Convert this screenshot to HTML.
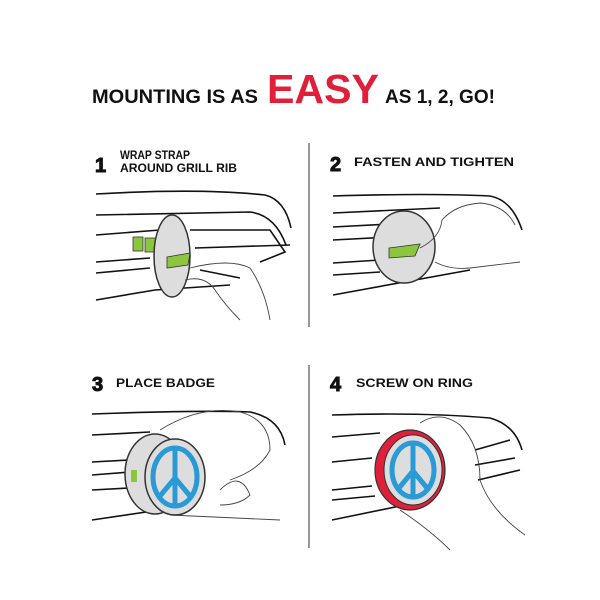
<!DOCTYPE html>
<html><head><meta charset="utf-8"><style>
html,body{margin:0;padding:0;background:#fff;width:600px;height:600px;overflow:hidden}
svg{display:block}
text{font-family:"Liberation Sans",sans-serif;font-weight:bold}
.n{stroke:#111;stroke-width:1}
</style></head><body>
<svg width="600" height="600" viewBox="0 0 600 600" xmlns="http://www.w3.org/2000/svg">
<rect width="600" height="600" fill="#fff"/>
<text x="92" y="103" font-size="19" fill="#111" textLength="166" lengthAdjust="spacingAndGlyphs">MOUNTING IS AS</text>
<text x="267" y="103" font-size="41" fill="#e0203a" textLength="112" lengthAdjust="spacingAndGlyphs">EASY</text>
<text x="385" y="103" font-size="19" fill="#111" textLength="110" lengthAdjust="spacingAndGlyphs">AS 1, 2, GO!</text>
<line x1="309" y1="143" x2="309" y2="327" stroke="#777" stroke-width="1.5"/>
<line x1="309" y1="365" x2="309" y2="548" stroke="#777" stroke-width="1.5"/>

<!-- Panel 1 -->
<text class="n" x="95" y="172" font-size="20" fill="#111">1</text>
<text x="120" y="159" font-size="11.5" fill="#111" textLength="70" lengthAdjust="spacingAndGlyphs">WRAP STRAP</text>
<text x="120" y="172" font-size="11.5" fill="#111" textLength="117" lengthAdjust="spacingAndGlyphs">AROUND GRILL RIB</text>
<g fill="none" stroke="#111" stroke-width="1.6">
<path d="M96 194 Q200 188 265 195 Q285 200 291 228"/>
<path d="M96 215 L250 212 Q275 215 286 245"/>
<path d="M96 235 L160 230"/>
<path d="M96 262 L150 258"/>
<path d="M96 273 L150 268"/>
<path d="M96 300 L155 290 L230 285"/>
<path d="M190 230 L270 230 L285 252 L260 262"/>
<path d="M195 248 L290 245"/>
<path d="M200 270 L240 278"/>
</g>
<rect x="133" y="237" width="10" height="14" fill="#8cc63f" stroke="#333" stroke-width=".8"/>
<rect x="145" y="238" width="12" height="14" fill="#8cc63f" stroke="#333" stroke-width=".8"/>
<ellipse cx="172" cy="256" rx="18" ry="41" fill="#ddd" stroke="#333" stroke-width="1.5"/>
<polygon points="167,257 190,253 188,265 167,268" fill="#8cc63f" stroke="#333" stroke-width=".8"/>
<path d="M190 268 Q230 258 250 268 Q265 290 270 320 M185 280 Q205 275 215 290 Q225 305 240 320" fill="none" stroke="#444" stroke-width=".9"/>

<!-- Panel 2 -->
<text class="n" x="330" y="171" font-size="20" fill="#111">2</text>
<text x="354" y="166" font-size="11.5" fill="#111" textLength="160" lengthAdjust="spacingAndGlyphs">FASTEN AND TIGHTEN</text>
<g fill="none" stroke="#111" stroke-width="1.6">
<path d="M333 196 Q430 193 490 196 Q512 200 522 230"/>
<path d="M333 213 L440 208"/>
<path d="M333 227 L390 224"/>
<path d="M333 240 L390 237"/>
<path d="M333 263 L380 260"/>
<path d="M333 275 L380 272"/>
<path d="M333 295 L470 270"/>
</g>
<ellipse cx="404" cy="247" rx="31" ry="36" fill="#ddd" stroke="#333" stroke-width="1.5"/>
<polygon points="389,248 420,244 415,256 389,258" fill="#8cc63f" stroke="#333" stroke-width=".8"/>
<path d="M420 248 Q440 238 442 220 Q455 205 480 203 Q505 205 515 225 M435 262 Q450 270 470 268 L520 262" fill="none" stroke="#444" stroke-width=".9"/>

<!-- Panel 3 -->
<text class="n" x="92" y="391" font-size="20" fill="#111">3</text>
<text x="116" y="387" font-size="11.5" fill="#111" textLength="99" lengthAdjust="spacingAndGlyphs">PLACE BADGE</text>
<g fill="none" stroke="#111" stroke-width="1.6">
<path d="M92 414 Q200 410 250 412 Q280 418 285 445"/>
<path d="M92 435 L150 432"/>
<path d="M92 462 L130 460"/>
<path d="M92 475 L130 472"/>
<path d="M92 490 L130 488"/>
<path d="M92 520 L160 510"/>
</g>
<path d="M160 430 Q200 405 240 412 Q270 420 270 450 Q260 470 230 480 M220 490 Q240 470 250 495 Q240 505 220 505 M170 515 L280 520" fill="none" stroke="#444" stroke-width=".9"/>
<ellipse cx="155" cy="474" rx="30" ry="40" fill="#ddd" stroke="#333" stroke-width="1.5"/>
<rect x="131" y="470" width="6" height="12" fill="#8cc63f"/>
<ellipse cx="175" cy="477" rx="30" ry="38" fill="#ddd" stroke="#333" stroke-width="1.5"/>
<ellipse cx="175" cy="477" rx="22" ry="29" fill="none" stroke="#2a9ad6" stroke-width="5"/>
<path d="M175 449 V506 M175 478 L160 496 M175 478 L190 496" fill="none" stroke="#2a9ad6" stroke-width="5"/>

<!-- Panel 4 -->
<text class="n" x="330" y="391" font-size="20" fill="#111">4</text>
<text x="356" y="387" font-size="11.5" fill="#111" textLength="117" lengthAdjust="spacingAndGlyphs">SCREW ON RING</text>
<g fill="none" stroke="#111" stroke-width="1.6">
<path d="M332 415 Q420 412 490 418 Q515 425 522 450"/>
<path d="M332 437 L380 433"/>
<path d="M332 462 L372 458"/>
<path d="M332 490 L372 486"/>
<path d="M332 500 L375 496"/>
<path d="M332 520 L400 506"/>
<path d="M475 450 L510 440 M475 465 L515 458 M478 480 L520 470"/>
</g>
<ellipse cx="410" cy="470" rx="35" ry="40" fill="#e0203a" stroke="#333" stroke-width="1.2"/>
<ellipse cx="413" cy="470" rx="29" ry="35" fill="#ddd" stroke="#333" stroke-width="1"/>
<ellipse cx="413" cy="470" rx="21" ry="27" fill="none" stroke="#2a9ad6" stroke-width="5"/>
<path d="M413 443 V497 M413 471 L399 488 M413 471 L427 488" fill="none" stroke="#2a9ad6" stroke-width="5"/>
<path d="M420 423 Q440 410 460 425 Q480 445 480 480 Q490 510 525 535 M400 510 Q430 530 450 550" fill="none" stroke="#444" stroke-width=".9"/>
</svg>
</body></html>
